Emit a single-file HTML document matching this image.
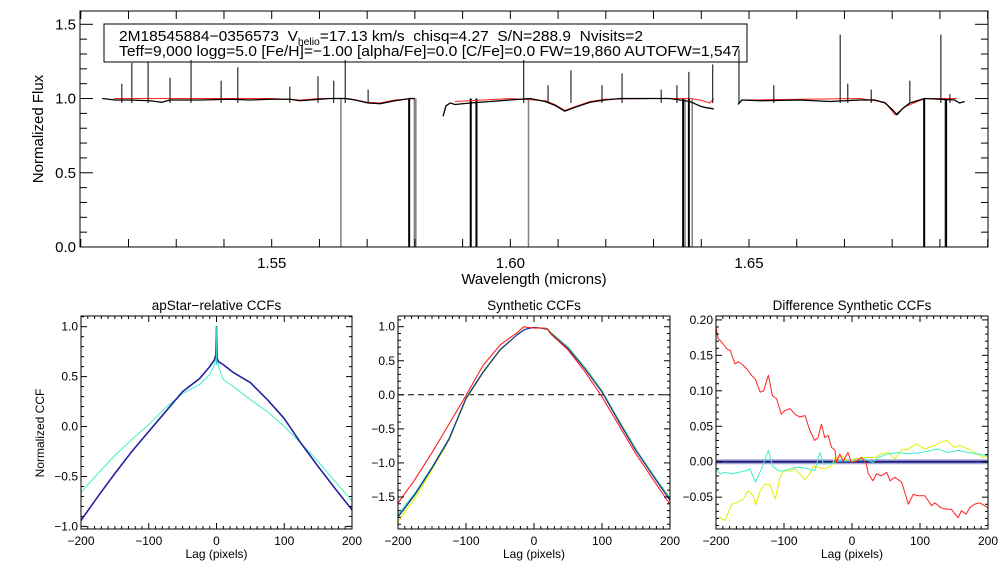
<!DOCTYPE html>
<html><head><meta charset="utf-8"><style>
html,body{margin:0;padding:0;background:#fff}
svg{display:block;font-family:"Liberation Sans",sans-serif}
</style></head><body>
<svg id="c" width="1008" height="576" viewBox="0 0 1008 576" xmlns="http://www.w3.org/2000/svg">
<rect width="1008" height="576" fill="#fff"/>
<rect x="104" y="24" width="643" height="38" fill="#fff" stroke="#000" stroke-width="1"/>
<text x="119" y="41" font-size="15" style="white-space:pre" textLength="524" lengthAdjust="spacingAndGlyphs">2M18545884−0356573  V<tspan font-size="10" dy="4">helio</tspan><tspan dy="-4">=17.13 km/s  chisq=4.27  S/N=288.9  Nvisits=2</tspan></text>
<text x="119" y="56" font-size="15" style="white-space:pre" textLength="621" lengthAdjust="spacingAndGlyphs">Teff=9,000 logg=5.0 [Fe/H]=−1.00 [alpha/Fe]=0.0 [C/Fe]=0.0 FW=19,860 AUTOFW=1,547</text>
</svg>
<script>
// ---------- top panel data ----------
const blackSeg1W=[1.5145,1.5172,1.5203,1.5245,1.5270,1.5287,1.5350,1.5413,1.5455,1.5496,1.5538,1.5559,1.5580,1.5622,1.5654,1.5675,1.5702,1.5727,1.5758,1.5790,1.5800];
const blackSeg1F=[1.00,0.99,0.99,0.985,0.975,0.99,0.99,0.995,0.99,0.995,0.995,0.985,0.99,1.0,1.0,0.99,0.97,0.965,0.985,1.0,1.0];
const blackSeg2W=[1.5859,1.5865,1.5874,1.5884,1.5916,1.5957,1.5999,1.6041,1.6073,1.6093,1.6114,1.6135,1.6167,1.6198,1.6230,1.6293,1.6334,1.6355,1.6376,1.6397,1.6408,1.6418,1.6426];
const blackSeg2F=[0.88,0.95,0.97,0.96,0.97,0.98,0.99,1.0,0.98,0.955,0.915,0.94,0.975,0.99,1.0,1.0,1.0,0.99,0.98,0.95,0.94,0.935,0.93];
const blackSeg3W=[1.6477,1.6485,1.6523,1.6607,1.6670,1.6733,1.6764,1.6785,1.6802,1.6810,1.6821,1.6837,1.6868,1.6931,1.6941,1.6952];
const blackSeg3F=[0.96,0.99,0.985,0.99,0.98,0.99,0.99,0.97,0.92,0.89,0.93,0.97,1.0,0.99,0.97,0.98];
const redSeg1W=[1.5170,1.5300,1.5500,1.5560,1.5600,1.5660,1.5700,1.5727,1.5758,1.5800];
const redSeg1F=[1.0,1.0,1.0,0.99,1.0,1.0,0.975,0.97,0.99,1.0];
const redSeg2W=[1.5884,1.6000,1.6073,1.6093,1.6114,1.6135,1.6167,1.6198,1.6300,1.6376,1.6397,1.6418,1.6426];
const redSeg2F=[0.98,1.0,0.985,0.96,0.92,0.945,0.98,0.995,1.0,1.0,0.99,0.97,1.0];
const redSeg3W=[1.6485,1.6733,1.6785,1.6806,1.6827,1.6868,1.6935];
const redSeg3F=[0.99,1.0,0.975,0.89,0.945,1.0,1.0];
const spikeW=[1.5186,1.5207,1.5241,1.5287,1.5331,1.5394,1.5429,1.5538,1.5597,1.5630,1.5654,1.5702,1.6028,1.6079,1.6127,1.6192,1.6234,1.6316,1.6349,1.6374,1.6424,1.6479,1.6552,1.6691,1.6707,1.6756,1.6837,1.6902,1.6921];
const spikeF=[1.10,1.24,1.25,1.14,1.26,1.12,1.21,1.08,1.15,1.12,1.26,1.06,1.26,1.09,1.19,1.09,1.17,1.06,1.09,1.18,1.23,1.33,1.09,1.43,1.10,1.06,1.12,1.43,1.03];
const absW=[1.5645,1.5788,1.5799,1.5802,1.5917,1.5929,1.6038,1.6362,1.6366,1.6374,1.6381,1.6867,1.6911,1.6913];
const absGrey=[1,0,1,1,0,0,1,0,1,0,1,0,1,0];
const topXTicks=[1.55,1.60,1.65];
const topYTicks=[0.0,0.5,1.0,1.5];
// ---------- bottom panel data ----------
const ccfLags=[-200,-175,-150,-125,-100,-75,-50,-25,-10,-3,-1,0,1,3,10,25,50,75,100,125,150,175,200];
const ccfBlue=[-0.94,-0.70,-0.47,-0.25,-0.05,0.15,0.35,0.48,0.60,0.67,0.72,1.0,0.68,0.65,0.62,0.54,0.44,0.27,0.08,-0.17,-0.40,-0.62,-0.835];
const ccfCyan=[-0.66,-0.47,-0.29,-0.13,0.02,0.19,0.33,0.42,0.52,0.62,0.75,1.0,0.72,0.60,0.47,0.40,0.27,0.15,0.0,-0.17,-0.35,-0.55,-0.745];
const synLags=[-200,-175,-150,-125,-100,-75,-50,-25,-15,-10,0,10,15,20,25,50,75,100,125,150,175,200];
const synBlue=[-1.79,-1.46,-1.07,-0.65,-0.05,0.33,0.66,0.88,0.95,0.97,0.99,0.98,0.97,0.96,0.90,0.68,0.38,0.04,-0.40,-0.82,-1.19,-1.55];
const synCyan=[-1.76,-1.44,-1.06,-0.64,-0.05,0.34,0.66,0.88,0.95,0.97,0.99,0.98,0.97,0.96,0.90,0.69,0.39,0.05,-0.39,-0.81,-1.18,-1.54];
const synGreen=[-1.80,-1.47,-1.08,-0.66,-0.06,0.33,0.66,0.88,0.95,0.97,0.99,0.98,0.98,0.97,0.91,0.70,0.40,0.06,-0.38,-0.80,-1.17,-1.52];
const synYellow=[-1.86,-1.52,-1.10,-0.67,-0.07,0.32,0.65,0.88,0.95,0.97,0.99,0.98,0.98,0.97,0.91,0.70,0.40,0.06,-0.38,-0.80,-1.17,-1.53];
const synRed=[-1.59,-1.24,-0.85,-0.43,-0.01,0.43,0.73,0.91,1.0,0.99,0.98,0.98,0.98,0.96,0.89,0.66,0.34,-0.03,-0.45,-0.87,-1.24,-1.61];
const diffRedLag=[-200,-197,-192,-184,-179,-176,-172,-167,-160,-153,-148,-142,-135,-130,-123,-117,-111,-104,-99,-91,-84,-77,-69,-62,-55,-50,-45,-40,-35,-30,-25,-23,-18,-13,-6,-1,7,14,21,24,31,36,43,51,56,63,73,83,90,97,107,117,122,131,139,146,156,161,168,173,180,188,195,200];
const diffRedVal=[0.190,0.174,0.169,0.159,0.157,0.148,0.138,0.141,0.136,0.129,0.122,0.116,0.098,0.100,0.122,0.093,0.089,0.067,0.072,0.075,0.067,0.063,0.065,0.044,0.030,0.034,0.053,0.034,0.037,0.020,0.016,-0.001,0.011,0.001,0.013,-0.001,0.001,0.006,-0.003,-0.017,-0.027,-0.017,-0.020,-0.015,-0.027,-0.022,-0.029,-0.060,-0.046,-0.048,-0.048,-0.062,-0.058,-0.065,-0.067,-0.067,-0.079,-0.069,-0.074,-0.065,-0.060,-0.058,-0.062,-0.065];
const diffCyanLag=[-200,-194,-187,-177,-167,-157,-150,-142,-133,-123,-117,-108,-101,-91,-82,-74,-64,-55,-47,-42,-30,-20,-11,2,19,31,38,53,68,83,102,117,127,141,156,171,185,200];
const diffCyanVal=[-0.010,-0.017,-0.015,-0.017,-0.015,-0.013,-0.010,-0.029,-0.010,0.016,-0.006,-0.013,-0.013,-0.010,-0.008,-0.008,-0.010,-0.013,0.013,-0.003,-0.003,0.001,0.001,0.001,0.004,-0.001,0.006,0.011,0.013,0.011,0.013,0.016,0.018,0.013,0.016,0.013,0.011,0.008];
const diffYelLag=[-200,-194,-187,-182,-177,-170,-160,-153,-145,-142,-135,-128,-121,-113,-106,-101,-91,-84,-77,-69,-62,-57,-50,-40,-30,-25,-20,-13,-6,4,14,24,34,43,53,63,73,83,95,107,122,129,139,151,158,171,180,193,200];
const diffYelVal=[-0.081,-0.079,-0.083,-0.072,-0.060,-0.058,-0.053,-0.041,-0.048,-0.061,-0.041,-0.032,-0.032,-0.053,-0.022,-0.013,-0.013,-0.010,-0.017,-0.025,-0.017,-0.006,-0.008,-0.010,-0.006,0.006,0.006,0.008,0.001,0.004,0.006,0.006,0.006,0.011,0.013,0.004,0.016,0.018,0.025,0.018,0.023,0.027,0.030,0.020,0.023,0.018,0.013,0.006,0.008];
const lagTicks=[-200,-100,0,100,200];
const p1YTicks=[-1.0,-0.5,0.0,0.5,1.0];
const p2YTicks=[-1.5,-1.0,-0.5,0.0,0.5,1.0];
const p3YTicks=[-0.05,0.00,0.05,0.10,0.15,0.20];

const svg=document.getElementById('c');
const NS='http://www.w3.org/2000/svg';
function mk(tag,attrs,parent){const e=document.createElementNS(NS,tag);for(const k in attrs)e.setAttribute(k,attrs[k]);(parent||svg).appendChild(e);return e;}
function scale(d0,d1,r0,r1){return v=>r0+(v-d0)/(d1-d0)*(r1-r0);}
function poly(xs,ys,sx,sy,color,w,parent){return mk('polyline',{points:xs.map((x,i)=>sx(x).toFixed(2)+','+sy(ys[i]).toFixed(2)).join(' '),fill:'none',stroke:color,'stroke-width':w,'stroke-linejoin':'round'},parent);}

// ---------- top panel ----------
const TL=80,TR=988,TT=11,TB=247;
const tx=scale(1.55,1.65,271.7,749), ty=scale(0,1.5,247,24.3);
const topG=mk('g',{});


const clipT=mk('clipPath',{id:'ct'});mk('rect',{x:TL,y:TT,width:TR-TL,height:TB-TT},clipT);
const tg=mk('g',{'clip-path':'url(#ct)'},topG);
absW.forEach((w,i)=>{const l=mk('line',{x1:tx(w),x2:tx(w),y1:ty(1.0),y2:TB,stroke:absGrey[i]?'#808080':'#000','stroke-width':absGrey[i]?1.5:2},tg);

});
const rs1=poly(redSeg1W,redSeg1F,tx,ty,'#ff2020',1,tg);


const rs2=poly(redSeg2W,redSeg2F,tx,ty,'#ff2020',1,tg);


const rs3=poly(redSeg3W,redSeg3F,tx,ty,'#ff2020',1,tg);


const bs1=poly(blackSeg1W,blackSeg1F,tx,ty,'#000',1.3,tg);


const bs2=poly(blackSeg2W,blackSeg2F,tx,ty,'#000',1.3,tg);


const bs3=poly(blackSeg3W,blackSeg3F,tx,ty,'#000',1.3,tg);


spikeW.forEach((w,i)=>{const l=mk('line',{x1:tx(w),x2:tx(w),y1:ty(0.97),y2:ty(spikeF[i]),stroke:'#000','stroke-width':1},tg);

});
mk('rect',{x:TL,y:TT,width:TR-TL,height:TB-TT,fill:'none',stroke:'#000','stroke-width':1},topG);
for(let k=151;k<=170;k++){const w=k/100;const X=tx(w);if(X<TL||X>TR)continue;
 mk('line',{x1:X,x2:X,y1:TB,y2:TB-8,stroke:'#000'},topG);mk('line',{x1:X,x2:X,y1:TT,y2:TT+8,stroke:'#000'},topG);}
for(let k=0;k<=15;k++){const v=k/10;const Y=ty(v);const L=(k%5===0)?13:7;
 mk('line',{x1:TL,x2:TL+L,y1:Y,y2:Y,stroke:'#000'},topG);mk('line',{x1:TR,x2:TR-L,y1:Y,y2:Y,stroke:'#000'},topG);}
topXTicks.forEach(v=>{const t=mk('text',{x:tx(v),y:268,'font-size':15,'text-anchor':'middle'},topG);t.textContent=v.toFixed(2);

});
topYTicks.forEach(v=>{const t=mk('text',{x:76,y:ty(v)+5,'font-size':15,'text-anchor':'end'},topG);t.textContent=v.toFixed(1);

});
const xt=mk('text',{x:534,y:284,'font-size':15,'text-anchor':'middle'},topG);xt.textContent='Wavelength (microns)';


const yt=mk('text',{x:43,y:129,'font-size':15,'text-anchor':'middle',transform:'rotate(-90 43 129)'},topG);yt.textContent='Normalized Flux';



// ---------- bottom panels ----------
function panel(L,R,T,B,y0,y1,yTicks,minor,major,fmt,title,name){
 const g=mk('g',{});
 
 
 const sx=scale(-200,200,L,R), sy=scale(y0,y1,B,T);
 const id='c'+name;const cp=mk('clipPath',{id:id});mk('rect',{x:L,y:T,width:R-L,height:B-T},cp);
 const inner=mk('g',{'clip-path':'url(#'+id+')'},g);
 mk('rect',{x:L,y:T,width:R-L,height:B-T,fill:'none',stroke:'#000','stroke-width':1},g);
 for(let v=-200;v<=200;v+=10){const X=sx(v);const len=(v%100===0)?6:3;
  mk('line',{x1:X,x2:X,y1:B,y2:B-len,stroke:'#000'},g);mk('line',{x1:X,x2:X,y1:T,y2:T+len,stroke:'#000'},g);}
 const n0=Math.ceil(y0/minor-1e-6),n1=Math.floor(y1/minor+1e-6);
 for(let k=n0;k<=n1;k++){const v=k*minor;const Y=sy(v);const isMaj=Math.abs(v/major-Math.round(v/major))<1e-6;const len=isMaj?6:3;
  mk('line',{x1:L,x2:L+len,y1:Y,y2:Y,stroke:'#000'},g);mk('line',{x1:R,x2:R-len,y1:Y,y2:Y,stroke:'#000'},g);}
 lagTicks.forEach(v=>{const t=mk('text',{x:sx(v),y:545,'font-size':12,'text-anchor':'middle'},g);t.textContent=(v<0?'−':'')+Math.abs(v);
  
  });
 yTicks.forEach(v=>{const t=mk('text',{x:L-3,y:sy(v)+4,'font-size':12,'text-anchor':'end'},g);t.textContent=(v<-1e-9?'−':'')+Math.abs(v).toFixed(fmt);
  
  });
 const tt=mk('text',{x:(L+R)/2,y:310,'font-size':13.5,'text-anchor':'middle'},g);tt.textContent=title;
 
 
 const xl=mk('text',{x:(L+R)/2,y:558,'font-size':12,'text-anchor':'middle'},g);xl.textContent='Lag (pixels)';
 
 
 return {g:inner,sx,sy};
}
const p1=panel(81,352,316,529,-1.026,1.107,p1YTicks,0.1,0.5,1,'apStar−relative CCFs','apstar-ccf-panel');
const yl=mk('text',{x:44,y:433,'font-size':12,'text-anchor':'middle',transform:'rotate(-90 44 433)'});yl.textContent='Normalized CCF';


const c1=poly(ccfLags,ccfCyan,p1.sx,p1.sy,'#40f0c8',1,p1.g);


const c2=poly(ccfLags,ccfBlue,p1.sx,p1.sy,'#2222a0',1.6,p1.g);


const c3=poly([0,0],[0.62,1.0],p1.sx,p1.sy,'#40c8b8',1.5,p1.g);



const p2=panel(398,670,316,529,-1.97,1.157,p2YTicks,0.1,0.5,1,'Synthetic CCFs','synthetic-ccf-panel');
const zl=mk('line',{x1:398,x2:670,y1:p2.sy(0),y2:p2.sy(0),stroke:'#000','stroke-dasharray':'6,4'},p2.g);


[[synYellow,'#e8f000','syn-yellow'],[synGreen,'#30c030','syn-green'],[synCyan,'#40f0c8','syn-cyan'],[synBlue,'#2222a0','syn-blue'],[synRed,'#ff2020','syn-red']].forEach(s=>{
 const l=poly(synLags,s[0],p2.sx,p2.sy,s[1],1.1,p2.g);
 
 });

const p3=panel(716,988,316,529,-0.0949,0.2055,p3YTicks,0.01,0.05,2,'Difference Synthetic CCFs','difference-ccf-panel');
const band=mk('line',{x1:716,x2:988,y1:p3.sy(0),y2:p3.sy(0),stroke:'#a8a8d8','stroke-width':5},p3.g);


const bl=mk('line',{x1:716,x2:988,y1:p3.sy(0),y2:p3.sy(0),stroke:'#202080','stroke-width':2},p3.g);


const d1=poly(diffYelLag,diffYelVal,p3.sx,p3.sy,'#e0f000',1,p3.g);


const d2=poly(diffCyanLag,diffCyanVal,p3.sx,p3.sy,'#40f0c8',1,p3.g);


const d3=poly(diffRedLag,diffRedVal,p3.sx,p3.sy,'#ff2020',1,p3.g);


</script>
</body></html>
